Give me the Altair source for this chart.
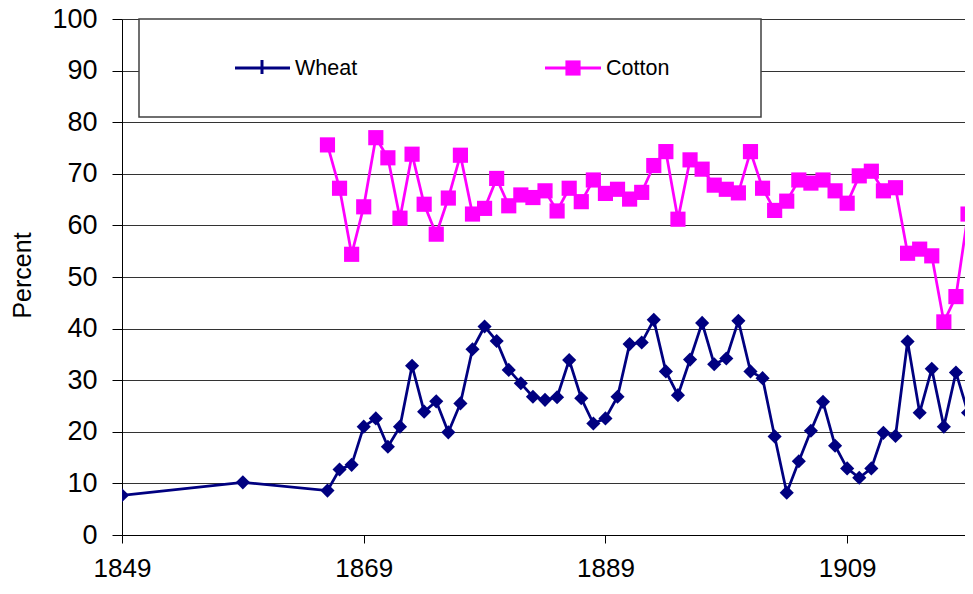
import altair as alt
import pandas as pd

# ---- data ----
wheat_years = [1849, 1859] + list(range(1866, 1920))
wheat_values = [
    7.7, 10.2,
    8.6, 12.7, 13.6, 21.0, 22.6, 17.1, 21.0, 32.8, 23.9, 25.9,
    19.9, 25.5, 36.0, 40.4, 37.6, 32.0, 29.4, 26.8, 26.2, 26.7,
    33.9, 26.5, 21.6, 22.6, 26.8, 37.0, 37.3, 41.7, 31.7, 27.1,
    34.0, 41.1, 33.1, 34.2, 41.5, 31.7, 30.4, 19.1, 8.2, 14.3,
    20.2, 25.8, 17.3, 12.9, 11.1, 12.9, 19.8, 19.2, 37.5, 23.7,
    32.2, 21.0, 31.5, 23.7,
]
cotton_years = list(range(1866, 1920))
cotton_values = [
    75.6, 67.2, 54.4, 63.6, 77.0, 73.1, 61.4, 73.8, 64.1, 58.3,
    65.3, 73.6, 62.2, 63.3, 69.1, 63.8, 65.9, 65.4, 66.7, 62.8,
    67.2, 64.6, 68.8, 66.2, 67.0, 65.1, 66.4, 71.6, 74.3, 61.2,
    72.7, 70.9, 67.8, 67.0, 66.3, 74.3, 67.2, 62.9, 64.7, 68.8,
    68.2, 68.8, 66.7, 64.3, 69.6, 70.5, 66.7, 67.3, 54.6, 55.4,
    54.1, 41.3, 46.2, 62.2,
]
series_names = ["Wheat", "Cotton"]
series_colors = ["#000080", "#FF00FF"]
x_tick_values = [1849, 1869, 1889, 1909]
y_tick_values = list(range(0, 101, 10))

FONT = "Liberation Sans"

wheat_df = pd.DataFrame({"Year": wheat_years, "Percent": wheat_values})
cotton_df = pd.DataFrame({"Year": cotton_years, "Percent": cotton_values})

x_enc = alt.X(
    "Year:Q",
    scale=alt.Scale(domain=[1849, 1918.75], nice=False, zero=False),
    axis=alt.Axis(
        values=x_tick_values, format="d", title=None, grid=False,
        labelFontSize=26, labelFont=FONT, labelColor="black",
        tickSize=8, tickColor="black", domainColor="black",
        labelPadding=12, labelFlush=False,
    ),
)
y_enc = alt.Y(
    "Percent:Q",
    scale=alt.Scale(domain=[0, 100], nice=False),
    axis=alt.Axis(
        values=y_tick_values, title="Percent", grid=True,
        gridColor="#333333", gridWidth=1,
        labelFontSize=27, labelFont=FONT, labelColor="black",
        tickSize=10, tickColor="black", domainColor="black",
        labelPadding=15,
        titleFont=FONT, titleFontSize=25, titleFontWeight="normal",
        titleColor="black", titleAngle=270, titleX=-100, titleY=256,
        titleAlign="center", titleBaseline="middle",
    ),
)

wheat_line = alt.Chart(wheat_df).mark_line(
    color=series_colors[0], strokeWidth=2.75, clip=True
).encode(x=x_enc, y=y_enc)
wheat_pts = alt.Chart(wheat_df).mark_point(
    shape="diamond", filled=True, opacity=1, size=200,
    color=series_colors[0], clip=True
).encode(x="Year:Q", y="Percent:Q")

cotton_line = alt.Chart(cotton_df).mark_line(
    color=series_colors[1], strokeWidth=2.75, clip=True
).encode(x="Year:Q", y="Percent:Q")
cotton_pts = alt.Chart(cotton_df).mark_point(
    shape="square", filled=True, opacity=1, size=230,
    color=series_colors[1], clip=True
).encode(x="Year:Q", y="Percent:Q")

# ---- legend box (drawn like the original Excel legend) ----
one = pd.DataFrame({"k": [0]})
legend_box = alt.Chart(one).mark_rect(
    fill="white", stroke="#404040", strokeWidth=1.5
).encode(x=alt.value(17), x2=alt.value(639), y=alt.value(0), y2=alt.value(98))

wheat_leg_line = alt.Chart(one).mark_rule(
    color=series_colors[0], strokeWidth=3
).encode(x=alt.value(113), x2=alt.value(168), y=alt.value(49))
wheat_leg_tick = alt.Chart(one).mark_rule(
    color=series_colors[0], strokeWidth=3
).encode(x=alt.value(140), y=alt.value(41), y2=alt.value(55))
cotton_leg_line = alt.Chart(one).mark_rule(
    color=series_colors[1], strokeWidth=3
).encode(x=alt.value(423), x2=alt.value(479), y=alt.value(49))
cotton_leg_sq = alt.Chart(one).mark_point(
    shape="square", filled=True, opacity=1, size=230, color=series_colors[1]
).encode(x=alt.value(451), y=alt.value(49))
wheat_leg_text = alt.Chart(pd.DataFrame({"name": [series_names[0]]})).mark_text(
    align="left", baseline="middle", fontSize=21.5, font=FONT, color="black"
).encode(x=alt.value(173), y=alt.value(50), text="name:N")
cotton_leg_text = alt.Chart(pd.DataFrame({"name": [series_names[1]]})).mark_text(
    align="left", baseline="middle", fontSize=21.5, font=FONT, color="black"
).encode(x=alt.value(484), y=alt.value(50), text="name:N")

chart = alt.layer(
    wheat_line, wheat_pts, cotton_line, cotton_pts,
    legend_box, wheat_leg_line, wheat_leg_tick, cotton_leg_line,
    cotton_leg_sq, wheat_leg_text, cotton_leg_text,
).properties(
    width=843, height=516,
    autosize=alt.AutoSizeParams(type="none"),
    padding={"left": 114, "top": 11, "right": 0, "bottom": 47},
    background="white",
).configure_view(stroke=None)

chart.save("out.html", embed_options={"renderer": "svg", "actions": False})
